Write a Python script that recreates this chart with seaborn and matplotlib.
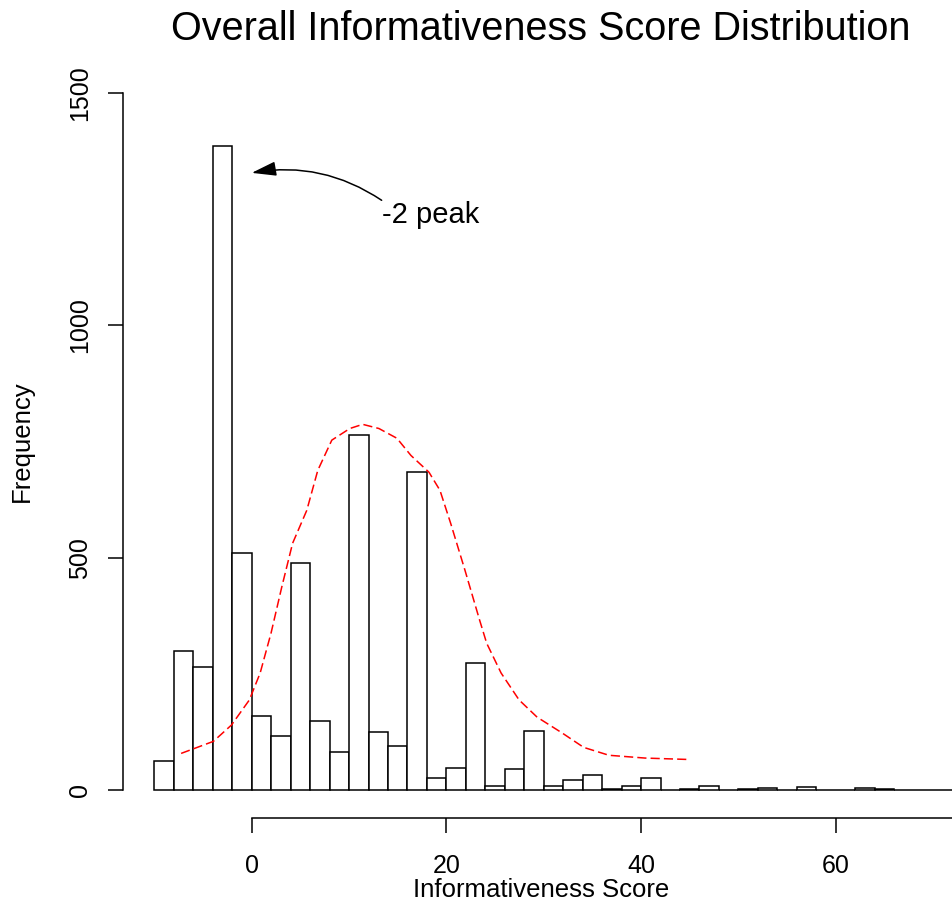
import numpy as np
import pandas as pd
import seaborn as sns
import matplotlib.pyplot as plt

# ===============================
# 1. DATA
# ===============================
bin_edges = list(range(-10, 74, 2))
bin_counts = [
    62, 299, 264, 1385, 510, 160, 116, 488, 148, 83,
    763, 124, 96, 684, 27, 48, 274, 9, 45, 127,
    8, 22, 32, 3, 9, 26, 0, 3, 9, 0,
    2, 5, 0, 6, 0, 0, 4, 2, 0, 0,
    1,
]

# scaled density curve (red dashed)
dens_x = [-7.25, -3.93, -2.08, -0.24, 0.87, 1.99, 3.09, 4.20, 5.66, 6.79,
          8.23, 10.08, 11.40, 13.07, 14.92, 16.36, 18.21, 19.34, 20.44, 21.91,
          23.41, 24.14, 25.62, 27.47, 29.32, 31.89, 34.1, 36.7, 40.4, 44.8]
dens_y = [79, 105, 140, 194, 252, 338, 437, 531, 602, 688,
          753, 778, 787, 778, 757, 720, 684, 645, 574, 473,
          366, 316, 252, 194, 157, 123, 92, 75, 69, 66]

x_ticks = [0, 20, 40, 60]
y_ticks = [0, 500, 1000, 1500]

df = pd.DataFrame({
    "score": [e + 1 for e in bin_edges[:-1]],
    "count": bin_counts,
})

# ===============================
# 2. STYLE
# ===============================
sns.set_theme(style="ticks")
plt.rcParams["font.family"] = ["Liberation Sans", "DejaVu Sans"]
plt.rcParams["text.color"] = "black"
plt.rcParams["axes.labelcolor"] = "black"

fig = plt.figure(figsize=(9.52, 9.07), dpi=100)
ax = fig.add_axes([0.1292, 0.0981, 0.8708, 0.8302])

# ===============================
# 3. HISTOGRAM + DENSITY
# ===============================
sns.histplot(
    data=df, x="score", weights="count", bins=bin_edges,
    color="white", edgecolor="black", linewidth=1.1, alpha=1, ax=ax
)

sns.lineplot(x=dens_x, y=dens_y, color="red", linewidth=1.1, ax=ax)
ax.lines[-1].set_dashes([6, 2.7])

# annotation
ax.annotate(
    "", xy=(0.0, 1328), xytext=(13.35, 1269),
    arrowprops=dict(arrowstyle="-|>,head_length=0.75,head_width=0.22",
                    connectionstyle="arc3,rad=0.2", color="black",
                    lw=1.1, shrinkA=0, shrinkB=0, mutation_scale=20),
)
ax.text(13.4, 1221, "-2 peak", fontsize=21, ha="left", va="baseline",
        color="black")

# ===============================
# 4. AXES (R base look)
# ===============================
ax.set_xlim(-13.22, 71.94)
ax.set_ylim(-60, 1560)
ax.set_xticks(x_ticks)
ax.set_yticks(y_ticks)
for s in ["top", "right"]:
    ax.spines[s].set_visible(False)
ax.spines["left"].set_bounds(0, 1500)
ax.spines["bottom"].set_bounds(0, 71.94)
for s in ["left", "bottom"]:
    ax.spines[s].set_linewidth(1.1)
    ax.spines[s].set_color("black")

ax.tick_params(axis="both", direction="out", length=10.8, width=1.1,
               colors="black", labelsize=18)
ax.tick_params(axis="x", pad=15)
ax.tick_params(axis="y", pad=11.5, labelrotation=90)
for lab in ax.get_yticklabels():
    lab.set_va("center")

ax.set_xlabel("Informativeness Score", fontsize=18.5, color="black")
ax.set_ylabel("Frequency", fontsize=18.5, color="black")
ax.xaxis.set_label_coords(0.504, -0.0797)
ax.yaxis.set_label_coords(-0.1074, 0.5)

fig.text(0.5683, 0.9559, "Overall Informativeness Score Distribution",
         fontsize=28.5, ha="center", va="baseline", color="black")

fig.savefig("out.png", dpi=100)
